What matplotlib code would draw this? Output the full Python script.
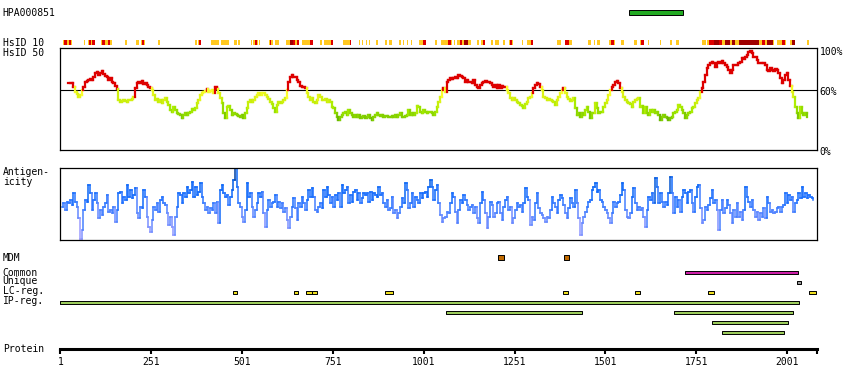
import numpy as np
import matplotlib
matplotlib.use("Agg")
import matplotlib.pyplot as plt
from matplotlib.collections import LineCollection
from matplotlib.colors import LinearSegmentedColormap, Normalize

plt.rcParams['font.family'] = ['DejaVu Sans Mono', 'DejaVu Sans']

# ---------------- data ----------------
PROTEIN_LENGTH = 2084
ANTIBODY = "HPA000851"
ANTIGEN_REGION = (1567, 1714)

# HsID 50 conservation (%), sampled along the protein
HSID50_START = 23.0
HSID50_STEP = 4.586
HSID50 = [
    67, 67, 67, 63, 58, 56, 53, 55, 60, 63,
    68, 69, 70, 71, 70, 73, 77, 78, 75, 77,
    79, 76, 74, 73, 70, 72, 68, 67, 64, 61,
    50, 48, 49, 50, 49, 48, 50, 50, 51, 53,
    62, 67, 68, 67, 69, 66, 67, 65, 63, 62,
    60, 55, 50, 51, 48, 50, 47, 50, 52, 48,
    45, 40, 38, 43, 40, 37, 36, 35, 32, 35,
    37, 35, 37, 38, 41, 40, 42, 47, 50, 55,
    57, 58, 59, 61, 58, 59, 60, 57, 63, 61,
    57, 52, 47, 37, 32, 43, 44, 40, 35, 37,
    36, 35, 34, 33, 35, 32, 37, 42, 48, 50,
    48, 50, 53, 55, 57, 55, 57, 57, 55, 53,
    51, 48, 46, 42, 38, 45, 48, 47, 48, 50,
    52, 60, 68, 73, 75, 73, 73, 70, 68, 64,
    63, 63, 62, 57, 53, 50, 52, 48, 47, 50,
    55, 53, 50, 50, 51, 48, 50, 48, 43, 42,
    37, 33, 30, 33, 35, 37, 38, 35, 40, 37,
    35, 33, 35, 33, 35, 32, 33, 34, 32, 33,
    35, 32, 30, 33, 35, 37, 35, 34, 35, 33,
    34, 34, 33, 33, 34, 33, 35, 33, 35, 37,
    33, 33, 34, 35, 40, 35, 37, 35, 37, 44,
    43, 38, 37, 40, 38,
    37, 38, 38, 37, 35, 38, 43, 48, 53, 60,
    62, 58, 68, 70, 72, 71, 72, 73, 72, 75,
    74, 73, 72, 68, 70, 68, 68, 67, 70, 65,
    63, 62, 65, 67, 68, 69, 68, 68, 67, 65,
    63, 65, 62, 65, 62, 64, 63, 63, 60, 57,
    52, 50, 52, 50, 48, 47, 45, 44, 42, 46,
    48, 52, 53, 57, 62, 65, 67, 66, 63, 60,
    53, 52, 50, 51, 50, 49, 48, 45, 50, 53,
    57, 60, 62, 57, 53, 51, 49, 50, 52, 42,
    35, 37, 33, 37, 35, 40, 43, 38, 32, 37,
    37, 47, 42, 37, 38, 38, 43, 47, 50, 55,
    60, 63, 65, 68, 69, 67, 62, 58, 53, 50,
    48, 47, 46, 43, 48, 50, 51, 52, 43, 44,
    37, 43, 37, 35, 40, 38, 40, 37, 38, 35,
    30, 33, 35, 33, 32, 30, 32, 33, 37, 38,
    40, 45, 43, 40, 37, 32, 35, 37, 38, 42,
    43, 47, 50, 52, 58, 62, 68, 75, 82, 85,
    87, 88, 87, 83, 87, 88, 87, 89, 87, 85,
    83, 80, 77, 80, 85, 85, 85, 87, 88, 92,
    91, 93, 95, 98, 99, 97, 93, 93, 90, 87,
    87, 87, 87, 85, 80, 79, 82, 80, 79, 81,
    80, 77, 72, 67, 70, 75, 77, 70, 64, 58,
    53, 43, 37, 32, 43, 37, 35, 37, 33,
]

# Antigenicity score (arbitrary units), sampled along the protein
ANTIGEN_START = 4.67
ANTIGEN_STEP = 4.586
ANTIGENICITY = [
    100, 110, 90, 115, 110, 120, 105, 140, 115, 100,
    65, 2, 30, 90, 120, 115, 165, 140, 90, 120,
    140, 110, 65, 90, 75, 100, 110, 135, 85, 90,
    80, 100, 55, 90, 140, 145, 110, 130, 120, 165,
    130, 150, 125, 135, 155, 80, 65, 100, 95, 150,
    130, 70, 40, 25, 60, 100, 90, 110, 85, 120,
    130, 110, 105, 80, 45, 70, 40, 15, 70, 100,
    140, 135, 110, 140, 130, 160, 140, 150, 175, 130,
    160, 135, 145, 170, 130, 110, 90, 100, 80, 95,
    90, 110, 80, 115, 50, 150, 165, 140, 130, 135,
    105, 130, 150, 180, 215, 160, 110, 100, 70, 55,
    90, 170, 130, 140, 100, 70, 90, 110, 140, 130,
    145, 80, 40, 90, 120, 100, 110, 115, 135, 100,
    115, 95, 110, 85, 95, 60, 35, 70, 100, 125,
    95, 60, 110, 100, 130, 110, 90, 120, 150, 130,
    155, 130, 90, 85, 100, 110, 95, 150, 130, 160,
    135, 110, 130, 100, 135, 120, 140, 100, 165, 140,
    150, 160, 110, 135, 115, 145, 150, 120, 140, 110,
    125, 140, 135, 140, 115, 145, 120, 140, 135, 130,
    160, 135, 140, 110, 100, 120, 90, 95, 130, 80,
    90, 65, 80, 100, 125, 110, 170, 150, 95, 110,
    140, 100, 130, 120, 110, 140, 125, 140, 145,
    130, 160, 180, 160, 120, 150, 165, 110, 75, 55,
    65, 70, 85, 80, 110, 140, 130, 85, 50, 90,
    120, 110, 135, 120, 105, 90, 100, 105, 80, 100,
    65, 50, 110, 145, 120, 80, 35, 70, 115, 105,
    70, 80, 110, 115, 80, 60, 100, 120, 130, 90,
    100, 50, 65, 90, 110, 100, 105, 85, 110, 155,
    130, 120, 45, 70, 60, 110, 140, 95, 80, 75,
    65, 55, 70, 65, 90, 130, 110, 100, 80, 120,
    135, 125, 105, 80, 65, 95, 125, 110, 100, 150,
    110, 65, 15, 50, 70, 85, 100, 115, 120, 150,
    160, 170, 145, 150, 120, 115, 100, 90, 80, 65,
    50, 80, 115, 100, 110, 115, 135, 170, 150, 90,
    70, 65, 80, 130, 155, 110, 90, 100, 90, 95,
    70, 40, 90, 130, 120, 140, 110, 185, 160, 110,
    140, 115, 100, 115, 105, 140, 190, 140, 80, 130,
    100, 120, 85, 130, 150, 140, 110, 145, 150, 110,
    85, 130, 160, 165, 95, 50, 60, 100, 90, 105,
    125, 150, 110, 120, 90, 30, 90, 120, 80, 95,
    120, 105, 80, 50, 90, 70, 110, 70, 85, 60,
    90, 160, 130, 115, 100, 120, 90, 70, 85, 60,
    80, 70, 95, 65, 130, 110, 85, 90, 80, 85,
    95, 100, 85, 100, 105, 140, 110, 135, 120, 130,
    85, 110, 120, 140, 125, 160, 130, 140, 125, 135,
    130, 125, 120,
]

# HsID 10 strip: (start, end) residues per conservation level
HSID10_GOLD = [
    (8, 33), (66, 69), (77, 97), (114, 142), (178, 185), (208, 217), (224, 235),
    (270, 275), (371, 376), (379, 384), (415, 437), (442, 464), (478, 486),
    (490, 496), (525, 528), (531, 545), (548, 551), (574, 586), (591, 596),
    (598, 602), (621, 653), (666, 687), (716, 720), (727, 745), (780, 798),
    (823, 826), (830, 835), (842, 846), (851, 853), (870, 874), (895, 901),
    (906, 913), (934, 938), (945, 947), (956, 959), (965, 968), (988, 1000),
    (1032, 1037), (1049, 1078), (1084, 1087), (1092, 1130), (1147, 1152),
    (1158, 1163), (1186, 1191), (1197, 1208), (1218, 1225), (1236, 1246),
    (1271, 1275), (1284, 1298), (1367, 1378), (1402, 1409), (1453, 1461),
    (1469, 1473), (1478, 1486), (1512, 1527), (1544, 1552), (1580, 1588),
    (1597, 1600), (1617, 1622), (1651, 1653), (1678, 1683), (1696, 1703),
    (1767, 1778), (1781, 1786), (1822, 1831), (1845, 1848), (1857, 1868),
    (1923, 1932), (1940, 1946), (1962, 1965), (1973, 1987), (1995, 1998),
    (2010, 2015), (2056, 2061),
]
HSID10_RED = [
    (11, 20), (25, 30), (80, 86), (88, 96), (117, 123), (132, 139), (226, 231),
    (384, 387), (536, 542), (577, 580), (641, 648), (653, 657), (687, 696),
    (745, 751), (798, 802), (1000, 1006), (1067, 1075), (1101, 1107),
    (1163, 1169), (1239, 1243), (1296, 1301), (1389, 1400), (1515, 1524),
    (1600, 1608), (1786, 1799), (1813, 1822), (1932, 1940), (1987, 1995),
]
HSID10_DARK = [
    (634, 641), (1113, 1122), (1799, 1813), (1831, 1845), (1850, 1857),
    (1868, 1923), (1946, 1962), (2015, 2022),
]

# Feature tracks: (start, end) residues
MDM = [(1206, 1221), (1388, 1402)]
COMMON = [(1721, 2030)]
UNIQUE = [(2029, 2038)]
LC_REG = [(477, 486), (645, 654), (678, 693), (693, 707), (895, 916),
          (1385, 1399), (1581, 1596), (1784, 1799), (2062, 2080)]
IP_REG = [
    [(1, 2033)],
    [(1063, 1436), (1691, 2017)],
    [(1795, 2003)],
    [(1823, 1992)],
]

TICKS = [1, 251, 501, 751, 1001, 1251, 1501, 1751, 2001]

# ---------------- layout ----------------
W, H = 850, 390
X0, X1 = 60.3, 817.3
FS = 7

fig = plt.figure(figsize=(W / 100, H / 100), dpi=100)
fig.patch.set_facecolor('white')


def rect(y0, y1, x0=X0, x1=X1):
    return [x0 / W, 1 - y1 / H, (x1 - x0) / W, (y1 - y0) / H]


def label(text, y_base, x=2.7):
    fig.text(x / W, 1 - y_base / H, text, fontsize=FS, ha='left', va='baseline')


XLIM = (1, PROTEIN_LENGTH)

# ---- top: antibody region + HsID 10 strip
ax_top = fig.add_axes(rect(0, 47))
ax_top.set_xlim(*XLIM)
ax_top.set_ylim(47, 0)
ax_top.axis('off')
ax_top.barh(12.5, ANTIGEN_REGION[1] - ANTIGEN_REGION[0], left=ANTIGEN_REGION[0],
            height=4.4, color='#22aa22', edgecolor='black', linewidth=0.7)
for segs, col in ((HSID10_GOLD, '#ffc820'), (HSID10_RED, '#dd0000'), (HSID10_DARK, '#a00000')):
    ax_top.broken_barh([(s, e - s) for s, e in segs], (40.0, 5.4),
                       facecolors=col, linewidth=0, antialiased=False)


def step_collection(x, y, colfun, lw):
    segs, cols = [], []
    for i in range(len(x) - 1):
        segs.append([(x[i], y[i]), (x[i + 1], y[i])])
        cols.append(colfun(y[i]))
        segs.append([(x[i + 1], y[i]), (x[i + 1], y[i + 1])])
        cols.append(colfun(y[i + 1]))
    return LineCollection(segs, colors=cols, linewidths=lw, capstyle='projecting')


# ---- HsID 50 panel
ax_hs = fig.add_axes(rect(48.3, 150))
ax_hs.set_xlim(*XLIM)
ax_hs.set_ylim(0, 101.7)
ax_hs.set_xticks([])
ax_hs.set_yticks([])
for sp in ax_hs.spines.values():
    sp.set_linewidth(0.9)
ax_hs.axhline(60, color='black', linewidth=0.8, zorder=1)
hs_cmap = LinearSegmentedColormap.from_list(
    'hs', [(0, '#3c8c00'), (0.2, '#7fcc00'), (0.45, '#a6ec00'), (0.72, '#d4f010'), (1, '#ffff30')])
hs_norm = Normalize(25, 61)


def hs_color(v):
    return '#dd0000' if v >= 61 else hs_cmap(hs_norm(v))


hx = HSID50_START + HSID50_STEP * np.arange(len(HSID50))
ax_hs.add_collection(step_collection(hx, np.array(HSID50, float), hs_color, 1.6))
for v, t in ((100, '100%'), (60, '60%'), (0, '0%')):
    ax_hs.text(1.003, v - 2.4, t, transform=ax_hs.get_yaxis_transform(),
               fontsize=FS, ha='left', va='center', clip_on=False)

# ---- Antigenicity panel
ax_an = fig.add_axes(rect(168.3, 240.3))
ax_an.set_xlim(*XLIM)
ax_an.set_ylim(-1, 215)
ax_an.set_xticks([])
ax_an.set_yticks([])
for sp in ax_an.spines.values():
    sp.set_linewidth(0.9)
an_cmap = LinearSegmentedColormap.from_list(
    'an', [(0, '#9c9cff'), (0.28, '#6a8aff'), (0.47, '#3a7cff'), (0.6, '#1a6eff'),
           (0.8, '#0866f4'), (1.0, '#0040a0')])
an_norm = Normalize(0, 215)
axn = ANTIGEN_START + ANTIGEN_STEP * np.arange(len(ANTIGENICITY))
ax_an.add_collection(step_collection(axn, np.array(ANTIGENICITY, float),
                                     lambda v: an_cmap(an_norm(v)), 1.1))

# ---- Feature tracks
ax_f = fig.add_axes(rect(250, 340))
ax_f.set_xlim(*XLIM)
ax_f.set_ylim(340, 250)
ax_f.axis('off')


def track(segs, yc, h, col):
    ax_f.broken_barh([(s, e - s) for s, e in segs], (yc - h / 2, h),
                     facecolors=col, edgecolors='black', linewidth=0.7)


track(MDM, 257.7, 4.6, '#c06a00')
track(COMMON, 272.5, 3.6, '#cc1fa8')
track(UNIQUE, 282.5, 3.6, '#999999')
track(LC_REG, 292.5, 3.8, '#f0e020')
for i, row in enumerate(IP_REG):
    track(row, 302.5 + 10 * i, 3.6, '#9ccc5c')

# ---- Protein axis
ax_p = fig.add_axes([X0 / W, 1 - 349.4 / H, (X1 - X0) / W, 0.0001])
ax_p.set_xlim(*XLIM)
ax_p.set_yticks([])
for s in ('top', 'left', 'right'):
    ax_p.spines[s].set_visible(False)
ax_p.spines['bottom'].set_linewidth(2.2)
ax_p.set_xticks(TICKS + [PROTEIN_LENGTH])
ax_p.set_xticklabels([str(t) for t in TICKS] + [''], fontsize=FS)
ax_p.tick_params(axis='x', direction='out', length=3.3, width=1.5, pad=2.5)

# ---- Left labels
label(ANTIBODY, 16.0)
label('HsID 10', 45.7)
label('HsID 50', 56.0)
label('Antigen-', 175.0)
label('icity', 185.3)
label('MDM', 260.7)
label('Common', 276.0)
label('Unique', 284.5)
label('LC-reg.', 294.5)
label('IP-reg.', 304.5)
label('Protein', 352.5)

fig.savefig('out.png', dpi=100, facecolor='white')
